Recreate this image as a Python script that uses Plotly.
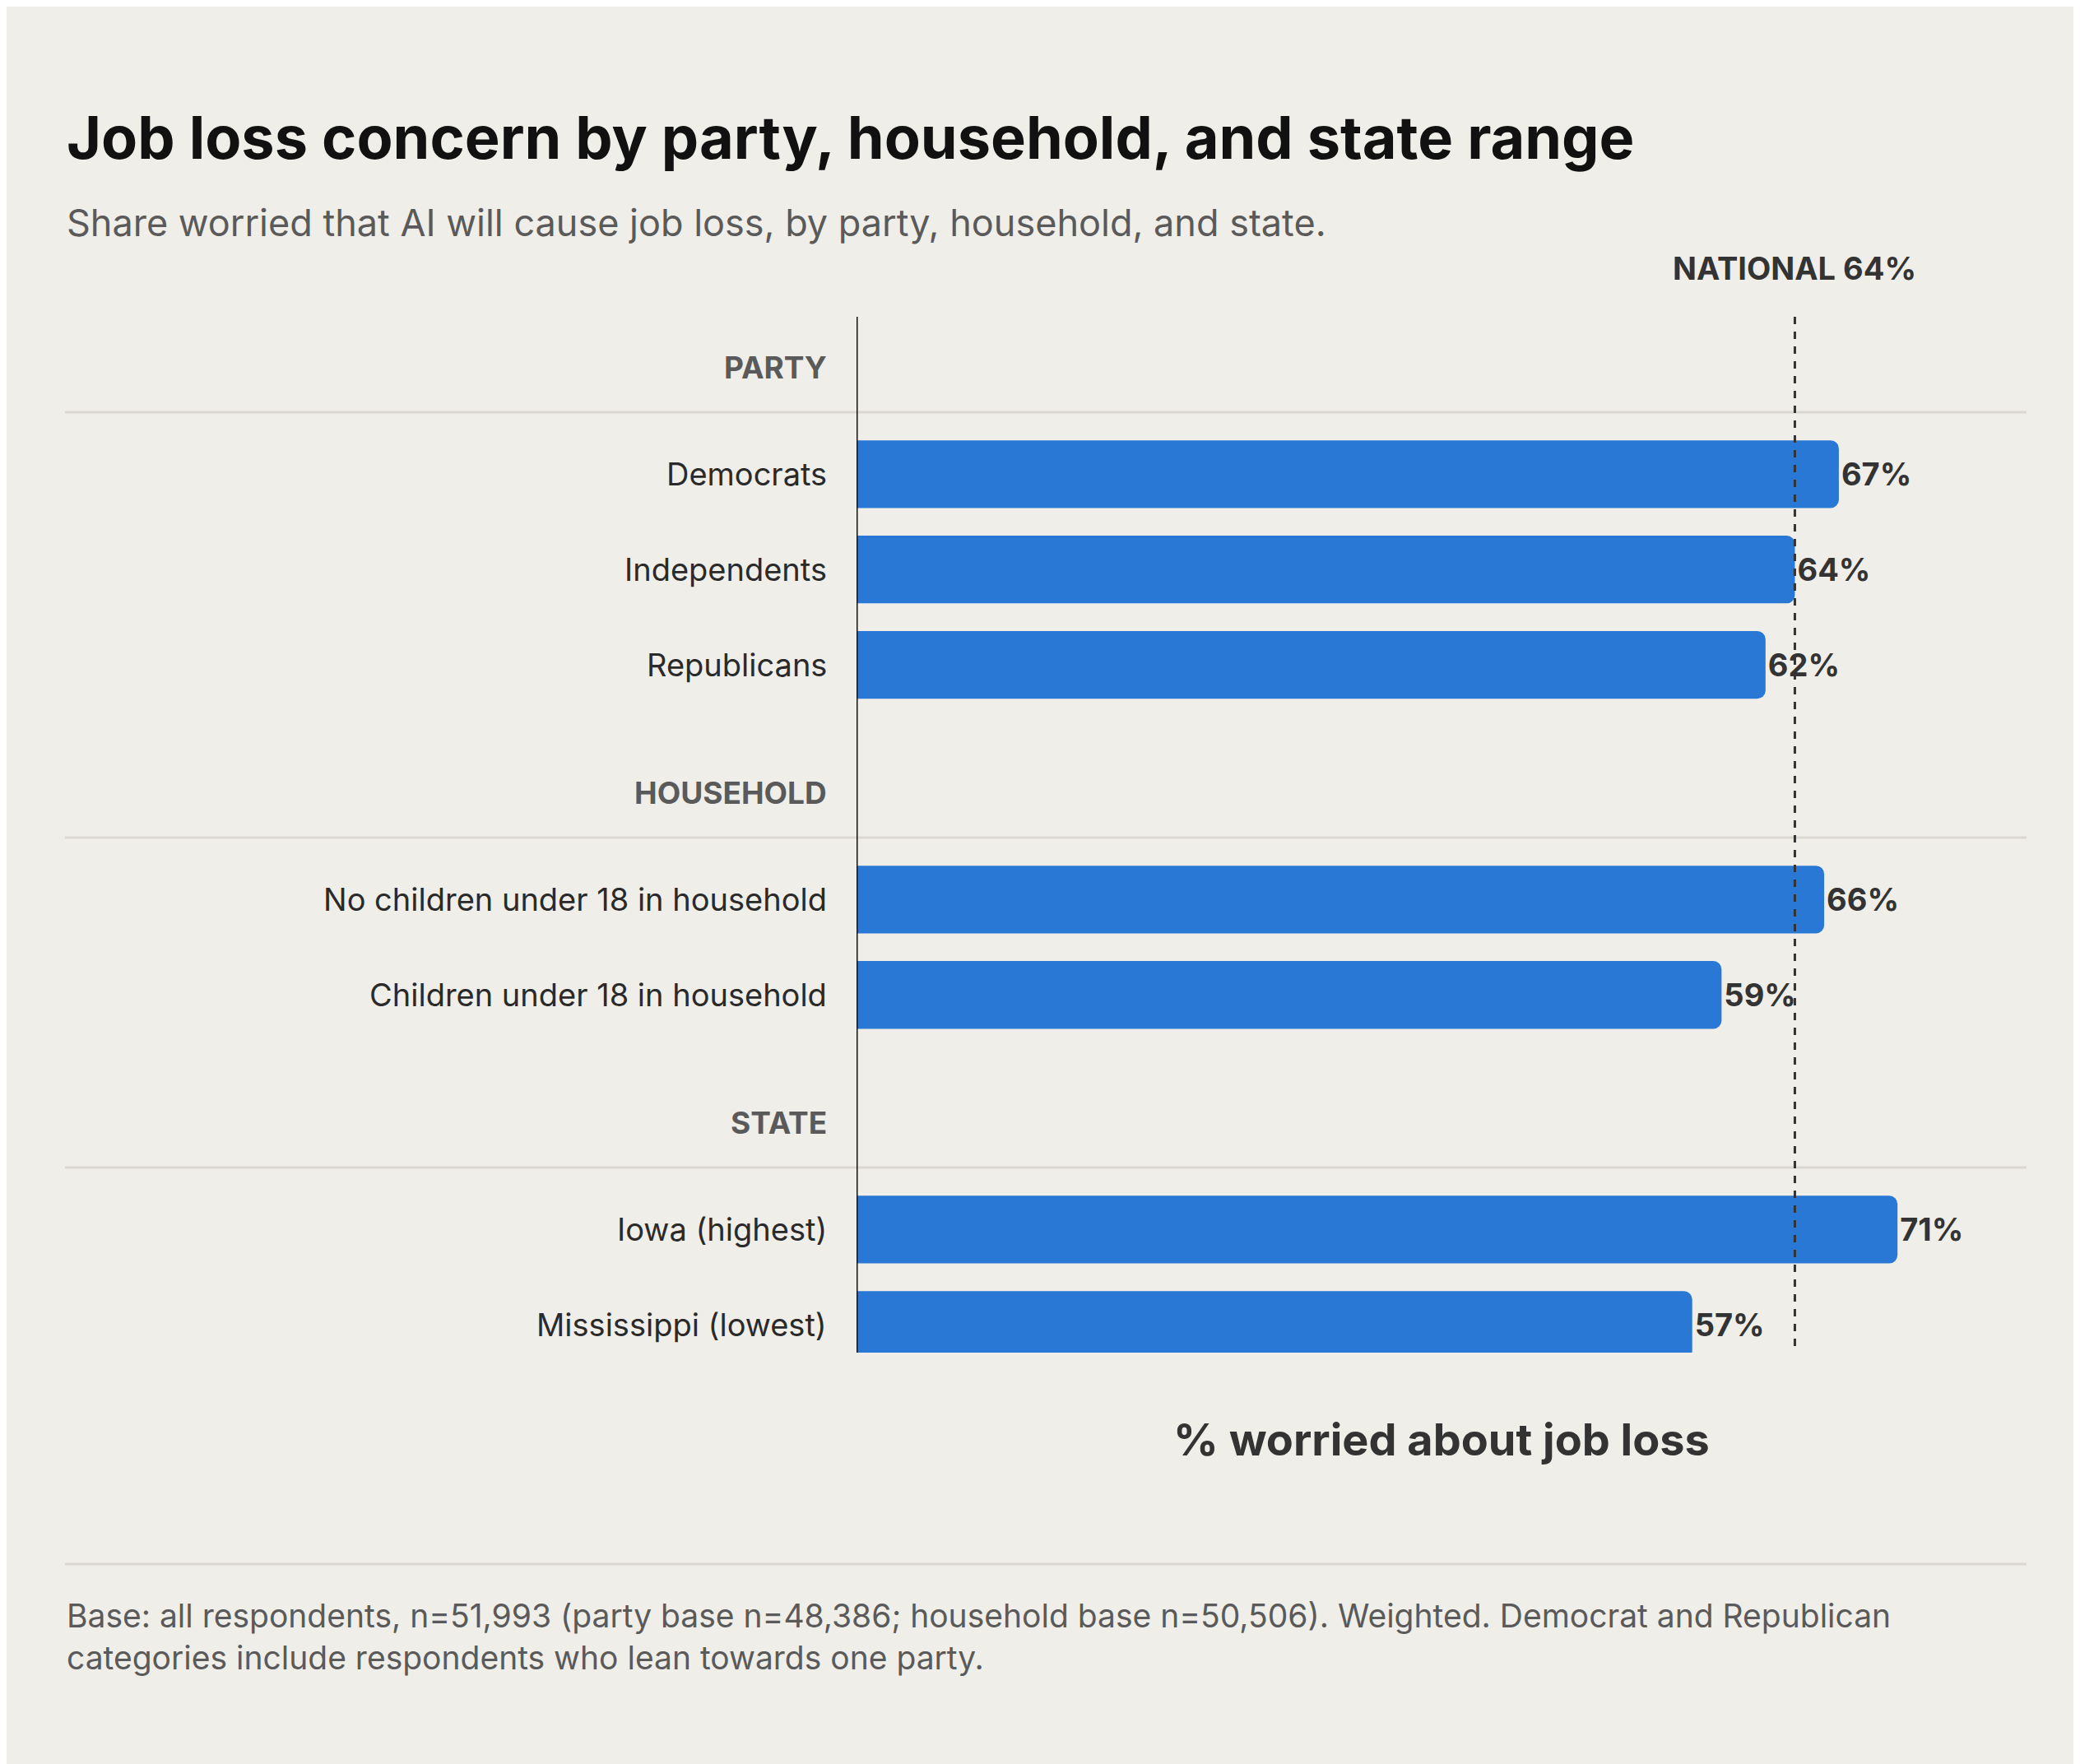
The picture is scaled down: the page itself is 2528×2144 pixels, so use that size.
import plotly.graph_objects as go

# data
groups = ["PARTY", "HOUSEHOLD", "STATE"]
labels = [
    ["Democrats", "Independents", "Republicans"],
    ["No children under 18 in household", "Children under 18 in household"],
    ["Iowa (highest)", "Mississippi (lowest)"],
]
values = [[67, 64, 62], [66, 59], [71, 57]]
national = 64

W, H = 2528, 2144
L, R, T, B = 1033, 73, 377, 508
PW, PH = W - L - R, H - T - B

def px(X):
    return (X - L) / PW

def py(Y):
    return (H - B - Y) / PH

# row layout (in bar-step units)
bar_gap = 1.0
head_to_bar = 1.12
bar_to_head = 1.34
line_off = 0.47

ys, names, vals, heads, lines = [], [], [], [], []
y = -head_to_bar
for gi, g in enumerate(groups):
    if gi > 0:
        y = ys[-1] + bar_to_head
    heads.append((g, y))
    lines.append(y + line_off)
    y += head_to_bar
    for lab, v in zip(labels[gi], values[gi]):
        ys.append(y)
        names.append(lab)
        vals.append(v)
        y += bar_gap
    y -= bar_gap

y_top = heads[0][1] - 0.53
y_bot = ys[-1] + 0.29

BG = "#F0EEE8"
FONT = "Inter"
DARK = "#1F1F1F"
GRAY = "#5A5A5A"

fig = go.Figure(go.Bar(
    x=vals, y=ys, orientation="h", width=0.71,
    marker=dict(color="#2A78D6", line=dict(width=0)),
    text=[f"{v}%" for v in vals], textposition="outside",
    textfont=dict(family=FONT, size=38, color="#333333", weight="bold"),
    cliponaxis=False, hoverinfo="skip",
))

annotations = []
for lab, yy in zip(names, ys):
    annotations.append(dict(x=px(999), xref="paper", y=yy, yref="y", text=lab,
                            showarrow=False, xanchor="right",
                            font=dict(family=FONT, size=38, color="#2A2A2A")))
for g, yy in heads:
    annotations.append(dict(x=px(999), xref="paper", y=yy, yref="y", text=g,
                            showarrow=False, xanchor="right",
                            font=dict(family=FONT, size=37, color=GRAY, weight="bold")))

annotations += [
    dict(x=px(71), y=py(158), xref="paper", yref="paper", text="Job loss concern by party, household, and state range",
         showarrow=False, xanchor="left", yanchor="middle",
         font=dict(family=FONT, size=72, color="#111111", weight="bold")),
    dict(x=px(71), y=py(262), xref="paper", yref="paper",
         text="Share worried that AI will cause job loss, by party, household, and state.",
         showarrow=False, xanchor="left", yanchor="middle",
         font=dict(family=FONT, size=45, color=GRAY)),
    dict(x=national, xref="x", y=py(318), yref="paper", text="NATIONAL 64%",
         showarrow=False, xanchor="center", yanchor="middle",
         font=dict(family=FONT, size=38, color="#333333", weight="bold")),
    dict(x=px(1744), y=py(1741), xref="paper", yref="paper", text="% worried about job loss",
         showarrow=False, xanchor="center", yanchor="middle",
         font=dict(family=FONT, size=54, color="#333333", weight="bold")),
    dict(x=px(71), y=py(1930), xref="paper", yref="paper",
         text="Base: all respondents, n=51,993 (party base n=48,386; household base n=50,506). Weighted. Democrat and Republican<br>categories include respondents who lean towards one party.",
         showarrow=False, xanchor="left", yanchor="top", align="left",
         font=dict(family=FONT, size=39, color=GRAY)),
]

shapes = []
for ly in lines:
    shapes.append(dict(type="line", xref="paper", yref="y", x0=px(71), x1=1, y0=ly, y1=ly,
                       line=dict(color="#DAD7D0", width=3), layer="below"))
shapes.append(dict(type="line", xref="paper", yref="paper", x0=px(71), x1=1,
                   y0=py(1893), y1=py(1893), line=dict(color="#DAD7D0", width=3)))
shapes.append(dict(type="line", xref="x", yref="y", x0=0, x1=0, y0=y_top, y1=y_bot,
                   line=dict(color="#111111", width=3), layer="above"))
shapes.append(dict(type="line", xref="x", yref="y", x0=national, x1=national, y0=y_top, y1=y_bot,
                   line=dict(color="#333333", width=3, dash="dash"), layer="above"))

fig.update_layout(
    width=W, height=H,
    margin=dict(l=L, r=R, t=T, b=B),
    paper_bgcolor=BG, plot_bgcolor=BG,
    barcornerradius=10,
    showlegend=False,
    xaxis=dict(range=[0, 79.8], visible=False, fixedrange=True),
    yaxis=dict(range=[y_bot, y_top], visible=False, fixedrange=True),
    annotations=annotations, shapes=shapes,
)

fig.write_html("out.html")
